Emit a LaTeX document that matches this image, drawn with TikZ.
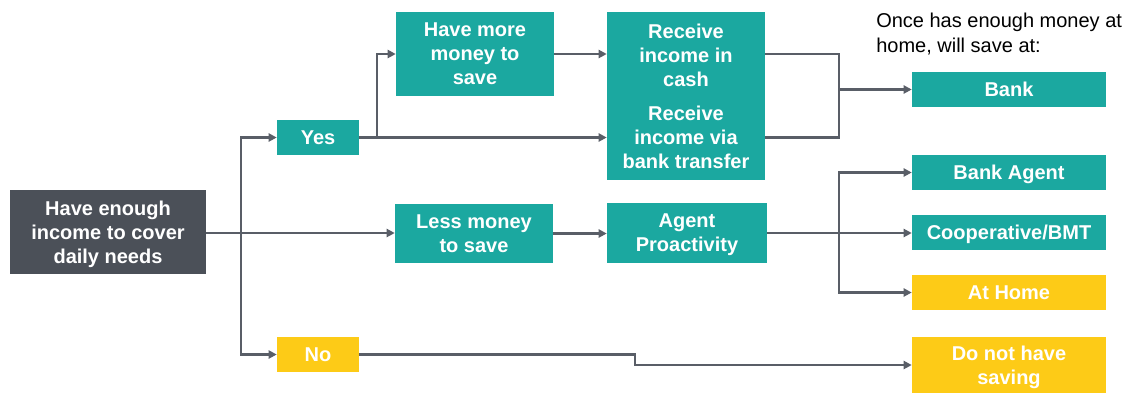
\documentclass[tikz,border=0pt]{standalone}
\usepackage{fontspec}
\setmainfont{Liberation Sans}
\usetikzlibrary{arrows.meta}
\definecolor{tealbox}{HTML}{1BA8A0}
\definecolor{yellowbox}{HTML}{FDCB17}
\definecolor{darkbox}{HTML}{4B5058}
\definecolor{linegray}{HTML}{595E67}
\tikzset{
  boxfont/.style={font=\fontsize{15}{18}\selectfont\bfseries, text=white,
    align=center, inner sep=0pt, text depth=0pt},
  box/.style={boxfont, text depth=-2.6pt, fill=tealbox, draw=none},
  ybox/.style={box, fill=yellowbox},
  gbox/.style={box, fill=darkbox},
  sz/.style 2 args={minimum width=#1*0.75pt, minimum height=#2*0.75pt},
  conn/.style={draw=linegray, line width=1.6pt},
  arr/.style={conn, -{Triangle[length=6pt,width=6pt]}},
}
\begin{document}
\begin{tikzpicture}[x=0.75pt,y=-0.75pt]
\useasboundingbox (0,0) rectangle (1128,394);

% boxes (centres in pixel grid, y downwards)
\node[gbox, sz={196}{84}] (root) at (108,232) {Have enough\\income to cover\\daily needs};
\node[box,  sz={82}{35}]  (yes)  at (318,137.5) {Yes};
\node[ybox, sz={82}{35}]  (no)   at (318,354.5) {No};
\node[box,  sz={158}{84}] (more) at (475,54) {Have more\\money to\\save};
\node[box,  sz={158}{59}] (less) at (474,233.5) {Less money\\to save};
\node[box,  sz={158}{168}] (recv) at (686,96) {};
\node[boxfont] (recvcash) at (686,55) {Receive\\income in\\cash};
\node[boxfont] (recvbank) at (686,137) {Receive\\income via\\bank transfer};
\node[box,  sz={160}{60}] (agent) at (687,233) {Agent\\Proactivity};

\node[anchor=north west, inner sep=0pt, align=left, font=\fontsize{15}{18.75}\selectfont]
  (note) at (876,12.5) {Once has enough money at\\home, will save at:};

\node[box,  sz={194}{35}] (bank)   at (1009,89.5)  {Bank};
\node[box,  sz={194}{35}] (bagent) at (1009,172.5) {Bank Agent};
\node[box,  sz={194}{35}] (coop)   at (1009,232.5) {Cooperative/BMT};
\node[ybox, sz={194}{35}] (home)   at (1009,292.5) {At Home};
\node[ybox, sz={194}{56}] (nosave) at (1009,365)   {Do not have\\saving};

% junction points
\coordinate (j1) at (241,233);
\coordinate (j2) at (377,137.5);
\coordinate (j3) at (839,233);
\coordinate (j4) at (635,354.5);

% connectors
\draw[arr] (root.east |- j1) -- (j1 -| less.west);
\draw[arr] (j1) |- (yes.west);
\draw[arr] (j1) |- (no.west);
\draw[arr] (yes.east) -- (yes.east -| recv.west);
\draw[arr] (j2) |- (more.west);
\draw[arr] (more.east) -- (more.east -| recv.west);
\draw[conn] (more -| recv.east) -- (more -| j3) -- (yes -| j3) -- (yes -| recv.east);
\draw[arr] (bank -| j3) -- (bank.west);
\draw[arr] (less.east) -- (less.east -| agent.west);
\draw[arr] (agent.east |- j3) -- (j3 -| coop.west);
\draw[arr] (j3) |- (bagent.west);
\draw[arr] (j3) |- (home.west);
\draw[arr] (no.east) -- (j4) |- (nosave.west);
\end{tikzpicture}
\end{document}
